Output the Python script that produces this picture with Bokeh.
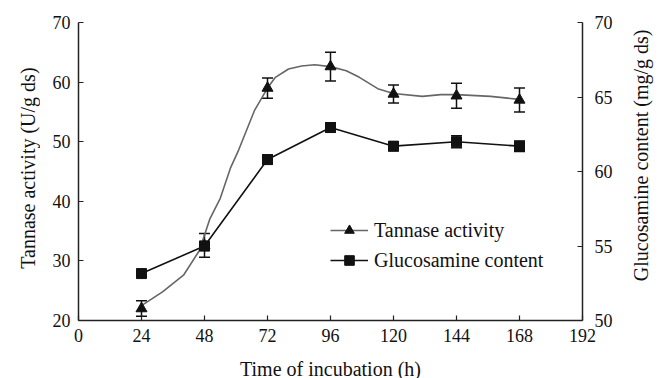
import math
from bokeh.plotting import figure
from bokeh.layouts import row, column
from bokeh.models import (Range1d, LinearAxis, FixedTicker, Whisker, ColumnDataSource,
                          Legend, LegendItem, TeeHead)
from bokeh.core.properties import value
from bokeh.embed import file_html
from bokeh.resources import INLINE

# ---- data ----
time_h = [24, 48, 72, 96, 120, 144, 168]
tannase = [22.0, 32.6, 59.0, 62.6, 58.0, 57.7, 57.0]
tannase_err = [1.3, 2.0, 1.7, 2.4, 1.5, 2.1, 2.0]
glucosamine = [53.15, 55.0, 60.8, 62.95, 61.7, 62.0, 61.7]
glucosamine_err = [0.25, 0.3, 0.3, 0.3, 0.3, 0.4, 0.35]

# smoothed tannase trace
curve_t = [24, 32, 40, 46, 50, 54, 58, 61, 67, 72, 75, 80, 85, 90, 96, 102, 107, 114, 120, 131, 138, 144, 157, 168]
curve_v = [22.5, 24.8, 27.6, 31.7, 37.0, 40.5, 45.7, 48.6, 55.2, 59.0, 60.8, 62.2, 62.7, 62.9, 62.6, 61.9, 60.8, 58.9, 58.1, 57.6, 57.9, 57.9, 57.6, 57.1]

x_ticks = [0, 24, 48, 72, 96, 120, 144, 168, 192]
left_ticks = [20, 30, 40, 50, 60, 70]
right_ticks = [50, 55, 60, 65, 70]

x_title = "Time of incubation (h)"
left_title = "Tannase activity (U/g ds)"
right_title = "Glucosamine content (mg/g ds)"

FONT = "Liberation Serif"
TICK_FS = "18px"
LABEL_FS = "20px"
INK = "#111111"

MAIN_H = 350

p = figure(width=580, height=MAIN_H, output_backend="svg", toolbar_location=None,
           x_range=Range1d(0, 192), y_range=Range1d(20, 70),
           min_border_left=38, min_border_right=38, min_border_top=22, min_border_bottom=30)
p.extra_y_ranges = {"gluc": Range1d(50, 70)}
p.outline_line_color = None
p.grid.visible = False
p.background_fill_color = "white"
p.border_fill_color = "white"

right_axis = LinearAxis(y_range_name="gluc")
p.add_layout(right_axis, "right")

p.xaxis.ticker = FixedTicker(ticks=x_ticks)
p.yaxis[0].ticker = FixedTicker(ticks=left_ticks)
right_axis.ticker = FixedTicker(ticks=right_ticks)

for ax in [p.xaxis[0], p.yaxis[0], right_axis]:
    ax.major_tick_in = 5
    ax.major_tick_out = 0
    ax.minor_tick_line_color = None
    ax.axis_line_color = "#222222"
    ax.axis_line_width = 1.5
    ax.major_tick_line_color = "#222222"
    ax.major_tick_line_width = 1.2
    ax.major_label_text_font = FONT
    ax.major_label_text_font_size = TICK_FS
    ax.major_label_text_color = INK

p.xaxis.major_label_standoff = 8
p.yaxis[0].major_label_standoff = 8
right_axis.major_label_standoff = 12

# sources
t_src = ColumnDataSource(dict(x=time_h, y=tannase,
                              lo=[v - e for v, e in zip(tannase, tannase_err)],
                              hi=[v + e for v, e in zip(tannase, tannase_err)]))
g_src = ColumnDataSource(dict(x=time_h, y=glucosamine,
                              lo=[v - e for v, e in zip(glucosamine, glucosamine_err)],
                              hi=[v + e for v, e in zip(glucosamine, glucosamine_err)]))

t_line = p.line(curve_t, curve_v, line_color="#666666", line_width=1.6)
g_line = p.line("x", "y", source=g_src, line_color=INK, line_width=1.6, y_range_name="gluc")

for src, rn in [(t_src, "default"), (g_src, "gluc")]:
    w = Whisker(source=src, base="x", upper="hi", lower="lo", dimension="height",
                line_color=INK, line_width=1.5, y_range_name=rn)
    w.upper_head = TeeHead(size=11, line_color=INK, line_width=1.5)
    w.lower_head = TeeHead(size=11, line_color=INK, line_width=1.5)
    p.add_layout(w)

t_mark = p.scatter("x", "y", source=t_src, marker="triangle", size=11,
                   fill_color=INK, line_color=INK)
g_mark = p.scatter("x", "y", source=g_src, marker="square", size=10,
                   fill_color=INK, line_color=INK, y_range_name="gluc")

legend = Legend(items=[LegendItem(label="Tannase activity", renderers=[t_line, t_mark]),
                       LegendItem(label="Glucosamine content", renderers=[g_line, g_mark])],
                location=(252, 48), border_line_color=None, background_fill_alpha=0,
                label_text_font=FONT, label_text_font_size=LABEL_FS, label_text_color=INK,
                glyph_width=38, glyph_height=24, label_height=24, spacing=6, padding=0,
                margin=0, label_standoff=6)
p.add_layout(legend)


def strip(w, h):
    f = figure(width=w, height=h, output_backend="svg", toolbar_location=None,
               x_range=Range1d(0, w), y_range=Range1d(0, h), min_border=0,
               outline_line_color=None)
    f.axis.visible = False
    f.grid.visible = False
    return f


txt_kw = dict(text_font=value(FONT), text_font_size=value(LABEL_FS), text_color=INK,
              text_align="center", text_baseline="middle")

# left title strip (reads bottom-to-top)
pL = strip(40, MAIN_H)
pL.text(x=[27], y=[MAIN_H - 171], text=[left_title], angle=math.pi / 2, **txt_kw)

# right title strip (reads bottom-to-top)
pR = strip(39, MAIN_H)
pR.text(x=[20], y=[MAIN_H - 156], text=[right_title], angle=math.pi / 2, **txt_kw)

# bottom title strip
pB = strip(659, 378 - MAIN_H)
pB.text(x=[330], y=[378 - 368], text=[x_title], **txt_kw)

layout = column(row(pL, p, pR, spacing=0), pB, spacing=0)
open("out.html", "w").write(file_html(layout, INLINE))
